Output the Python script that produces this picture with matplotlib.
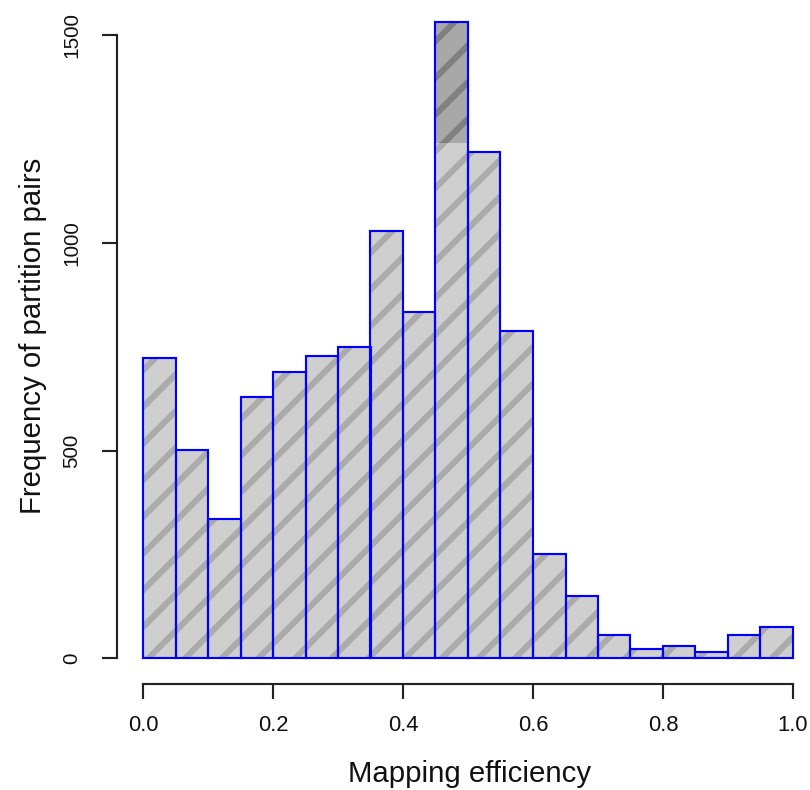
import matplotlib
matplotlib.use("Agg")
import matplotlib.pyplot as plt
import numpy as np

# ---- data ----
bin_edges = [round(0.05 * i, 2) for i in range(21)]
counts = [722, 501, 335, 628, 689, 727, 749, 1028, 834, 1532,
          1219, 787, 250, 149, 55, 23, 30, 15, 57, 75]
shade_bin = 9          # bin with darker upper part in the reference
shade_from = 1240
xticks = [0.0, 0.2, 0.4, 0.6, 0.8, 1.0]
xtick_labels = ["0.0", "0.2", "0.4", "0.6", "0.8", "1.0"]
yticks = [0, 500, 1000, 1500]
ytick_labels = ["0", "500", "1000", "1500"]
xlabel = "Mapping efficiency"
ylabel = "Frequency of partition pairs"

DPI = 220
plt.rcParams['font.family'] = ['Liberation Sans', 'DejaVu Sans']
plt.rcParams['hatch.linewidth'] = 2.0

fig = plt.figure(figsize=(810 / DPI, 790 / DPI), dpi=DPI)
W, H = 810, 790
# axes placement in pixels
ax = fig.add_axes([117 / W, 1 - 684 / H, 702 / W, (684 + 6.5) / H])
ax.set_xlim(-0.04, 1.04)
ax.set_ylim(-62, 1600)

lefts = np.array(bin_edges[:-1])
widths = np.diff(bin_edges)

# fill + hatch layer
ax.bar(lefts, counts, width=widths, align='edge', color='#cfcfcf',
       edgecolor='#ababab', hatch='//', linewidth=0, zorder=2)
# darker upper section of the tallest bar
ax.bar(lefts[shade_bin], counts[shade_bin] - shade_from, bottom=shade_from,
       width=widths[shade_bin], align='edge', color='#a8a8a8',
       edgecolor='#808080', hatch='//', linewidth=0, zorder=2.5)
# blue outlines
ax.bar(lefts, counts, width=widths, align='edge', facecolor='none',
       edgecolor='#0000ff', linewidth=0.7, zorder=3)

for s in ['top', 'right']:
    ax.spines[s].set_visible(False)
ax.spines['left'].set_bounds(0, 1500)
ax.spines['bottom'].set_bounds(0, 1)
for s in ['left', 'bottom']:
    ax.spines[s].set_linewidth(0.7)
    ax.spines[s].set_color('#222222')

ax.set_xticks(xticks)
ax.set_xticklabels(xtick_labels, fontsize=7.2,
                   family=['Liberation Sans Narrow', 'Liberation Sans', 'DejaVu Sans'])
ax.set_yticks(yticks)
ax.set_yticklabels(ytick_labels, fontsize=6.8, rotation=90, va='center')
ax.tick_params(axis='both', length=4.8, width=0.7, color='#222222', labelcolor='#111111')
ax.tick_params(axis='x', pad=5.3)
ax.tick_params(axis='y', pad=6.8)

fig.text(470 / W, 1 - 774 / H, xlabel, fontsize=9.6, ha='center', va='center', color='#111111')
fig.text(33 / W, 1 - 336 / H, ylabel, fontsize=9.6, ha='center', va='center',
         rotation=90, color='#111111')

fig.savefig("out.png", dpi=DPI, facecolor='white')
